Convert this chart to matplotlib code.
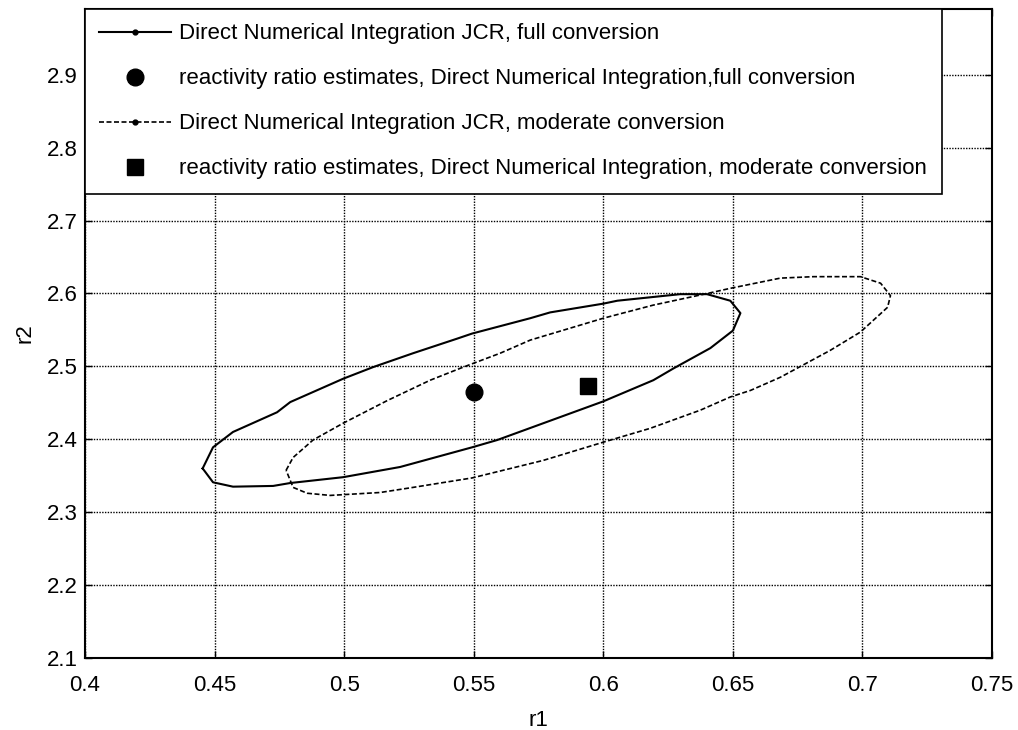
import matplotlib
matplotlib.use("Agg")
import matplotlib.pyplot as plt

plt.rcParams['font.family'] = ['Liberation Sans', 'DejaVu Sans']

# JCR contour, full conversion (solid)
full_r1 = [0.4454, 0.4494, 0.4571, 0.4741, 0.4792, 0.4996, 0.5112, 0.5266, 0.5436, 0.5494,
           0.5718, 0.5795, 0.6000, 0.6054, 0.6297, 0.6400, 0.6490, 0.6529, 0.6500, 0.6413,
           0.6270, 0.6193, 0.6000, 0.5591, 0.5494, 0.5216, 0.4996, 0.4792, 0.4726, 0.4571,
           0.4494, 0.4454]
full_r2 = [2.360, 2.389, 2.410, 2.437, 2.451, 2.483, 2.499, 2.518, 2.538, 2.545,
           2.566, 2.574, 2.586, 2.590, 2.599, 2.599, 2.590, 2.573, 2.549, 2.525,
           2.497, 2.481, 2.452, 2.399, 2.389, 2.362, 2.348, 2.340, 2.336, 2.335,
           2.341, 2.360]

# JCR contour, moderate conversion (dashed)
mod_r1 = [0.4776, 0.4803, 0.4880, 0.4996, 0.5166, 0.5332, 0.5460, 0.5602, 0.5718, 0.6000,
          0.6193, 0.6402, 0.6490, 0.6683, 0.6811, 0.6992, 0.7070, 0.7108, 0.7097, 0.6992,
          0.6876, 0.6683, 0.6568, 0.6490, 0.6375, 0.6181, 0.6000, 0.5768, 0.5494, 0.5266,
          0.5139, 0.4946, 0.4857, 0.4803, 0.4776]
mod_r2 = [2.3575, 2.375, 2.399, 2.422, 2.453, 2.481, 2.499, 2.518, 2.536, 2.566,
          2.584, 2.600, 2.607, 2.621, 2.623, 2.623, 2.614, 2.597, 2.581, 2.547,
          2.522, 2.485, 2.467, 2.458, 2.440, 2.415, 2.396, 2.371, 2.347, 2.334,
          2.327, 2.323, 2.326, 2.334, 2.3575]

# point estimates
est_full = (0.550, 2.465)
est_mod = (0.594, 2.473)

labels = [
    "Direct Numerical Integration JCR, full conversion",
    "reactivity ratio estimates, Direct Numerical Integration,full conversion",
    "Direct Numerical Integration JCR, moderate conversion",
    "reactivity ratio estimates, Direct Numerical Integration, moderate conversion",
]

fig = plt.figure(figsize=(10.18, 7.30), dpi=100)
ax = fig.add_axes([0.0835, 0.0986, 0.891, 0.889])

ax.plot(full_r1, full_r2, color='black', linewidth=1.5, label=labels[0])
ax.plot(est_full[0], est_full[1], 'o', color='black', markersize=12, label=labels[1])
ax.plot(mod_r1, mod_r2, color='black', linewidth=1.2, linestyle=(0, (3, 1.5)), label=labels[2])
ax.plot(est_mod[0], est_mod[1], 's', color='black', markersize=11, label=labels[3])

ax.set_xlim(0.4, 0.75)
ax.set_ylim(2.1, 2.99)
ax.set_xticks([0.4, 0.45, 0.5, 0.55, 0.6, 0.65, 0.7, 0.75])
ax.set_xticklabels(['0.4', '0.45', '0.5', '0.55', '0.6', '0.65', '0.7', '0.75'])
ax.set_yticks([2.1, 2.2, 2.3, 2.4, 2.5, 2.6, 2.7, 2.8, 2.9])
ax.set_yticklabels(['2.1', '2.2', '2.3', '2.4', '2.5', '2.6', '2.7', '2.8', '2.9'])

ax.grid(True, color='black', linestyle=(0, (1, 1)), linewidth=1.0)
ax.tick_params(direction='in', top=True, right=True, length=5, width=1, labelsize=16)
ax.tick_params(axis='x', pad=12)
ax.tick_params(axis='y', pad=5)
for sp in ax.spines.values():
    sp.set_linewidth(1.5)

ax.set_xlabel("r1", fontsize=16, labelpad=10)
ax.set_ylabel("r2", fontsize=16, labelpad=8)

leg = ax.legend(loc='upper left', bbox_to_anchor=(0, 1), borderaxespad=0,
                fontsize=16, numpoints=1, handlelength=3.2, handletextpad=0.4,
                labelspacing=1.08, borderpad=0.65, fancybox=False, framealpha=1,
                edgecolor='black')
leg.get_frame().set_linewidth(1.2)
for ln in leg.get_lines()[::2]:
    ln.set_marker('.')
    ln.set_markersize(7)

fig.savefig("out.png", dpi=100)
